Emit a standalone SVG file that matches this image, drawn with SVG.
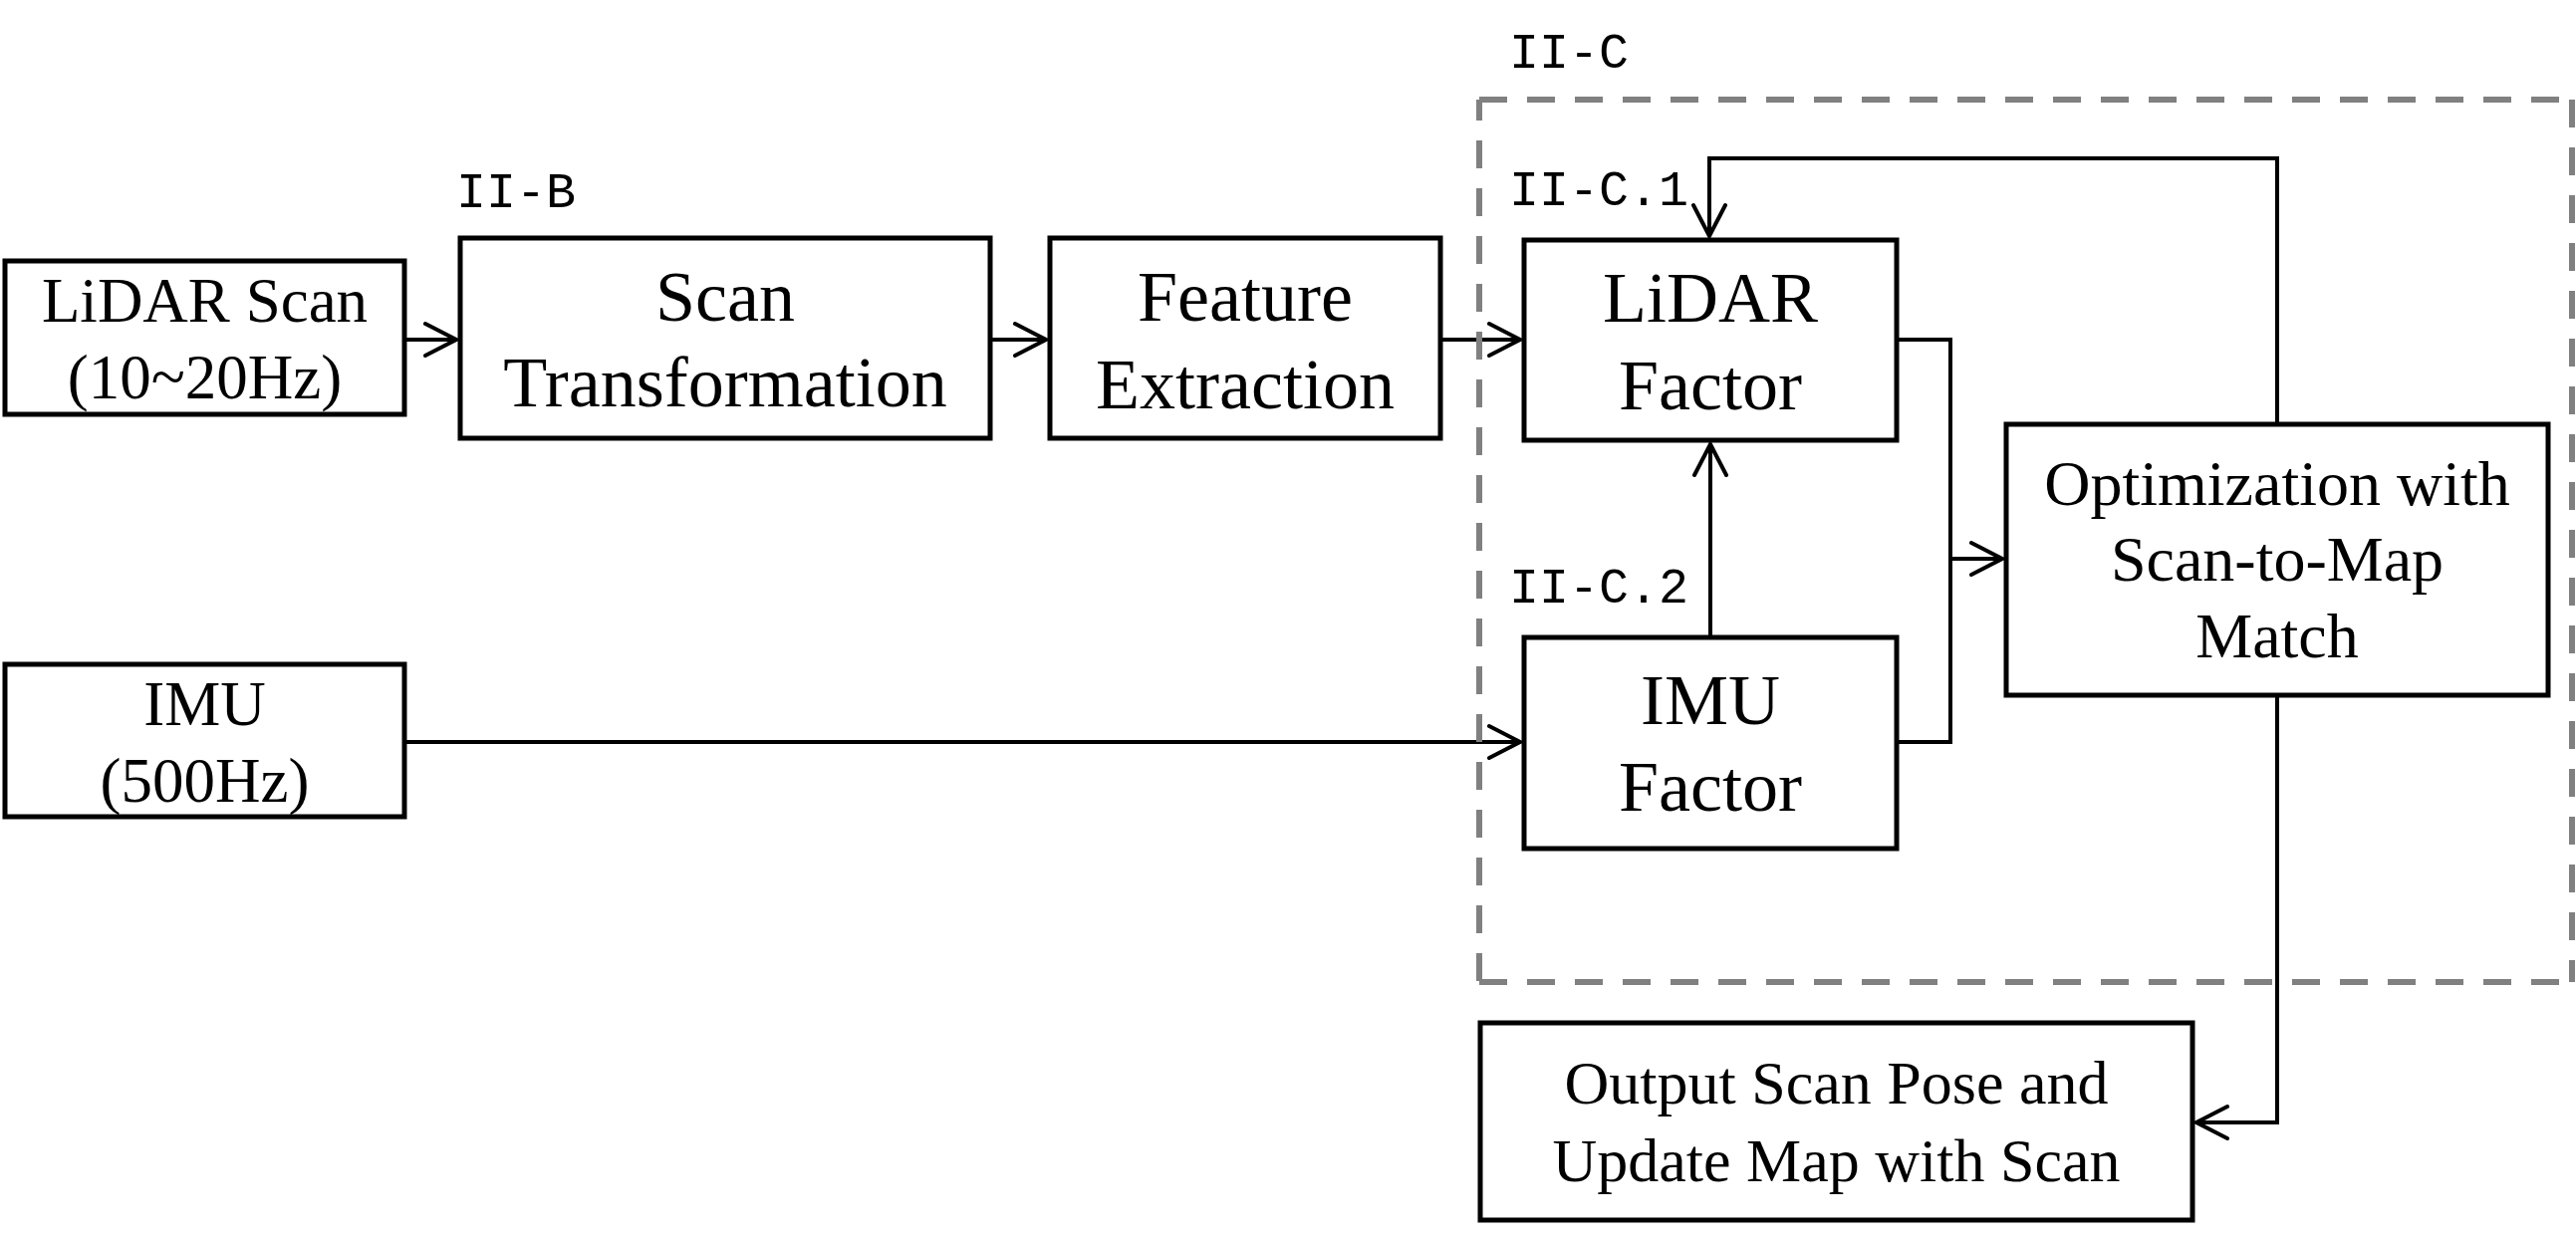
<svg xmlns="http://www.w3.org/2000/svg" width="2586" height="1242" viewBox="0 0 2586 1242">
<style>
.box{fill:#fff;stroke:#000;stroke-width:5}
.t{font-family:"Liberation Serif","Times New Roman",serif;fill:#000;text-anchor:middle}
.lbl{font-family:"Liberation Mono","DejaVu Sans Mono",monospace;font-size:50px;fill:#000}
.c{fill:none;stroke:#000;stroke-width:4}
.dash{fill:none;stroke:#808080;stroke-width:6;stroke-dasharray:28 20}
</style>
<defs>
<marker id="arr" markerUnits="userSpaceOnUse" markerWidth="40" markerHeight="40" viewBox="-36 -20 40 40" refX="0" refY="0" orient="auto">
<path d="M-31,-16 L0,0 L-31,16" fill="none" stroke="#000" stroke-width="4" stroke-linecap="round" stroke-linejoin="miter"/>
</marker>
</defs>
<rect width="2586" height="1242" fill="#fff"/>

<g id="connectors">
<path class="c" d="M407,341 H458" marker-end="url(#arr)"/>
<path class="c" d="M996,341 H1050" marker-end="url(#arr)"/>
<path class="c" d="M1448,341 H1526" marker-end="url(#arr)"/>
<path class="c" d="M407,745 H1526" marker-end="url(#arr)"/>
<path class="c" d="M1717,638 V446" marker-end="url(#arr)"/>
<path class="c" d="M1906,341 H1958 V745 H1906"/>
<path class="c" d="M1958,561 H2010" marker-end="url(#arr)"/>
<path class="c" d="M2286,424 V159 H1716 V237" marker-end="url(#arr)"/>
<path class="c" d="M2286,700 V1127 H2205" marker-end="url(#arr)"/>
</g>

<g id="group-IIC">
<path class="dash" d="M1485,100 H2582" stroke-dashoffset="0"/>
<path class="dash" d="M1485,100 V986" stroke-dashoffset="7"/>
<path class="dash" d="M1485,986 H2582"/>
<path class="dash" d="M2582,100 V986"/>
<text class="lbl" x="1515" y="68">II-C</text>
<text class="lbl" x="1515" y="206">II-C.1</text>
<text class="lbl" x="1515" y="605">II-C.2</text>
</g>

<g id="lidar-scan">
<rect class="box" x="5" y="262" width="401" height="154"/>
<text class="t" font-size="63" x="205.5" y="323">LiDAR Scan</text>
<text class="t" font-size="63" x="205.5" y="400">(10~20Hz)</text>
</g>

<g id="imu">
<rect class="box" x="5" y="667" width="401" height="153"/>
<text class="t" font-size="63" x="205.5" y="728">IMU</text>
<text class="t" font-size="63" x="205.5" y="805">(500Hz)</text>
</g>

<g id="scan-transformation">
<rect class="box" x="462" y="239" width="532" height="201"/>
<text class="lbl" x="458" y="208">II-B</text>
<text class="t" font-size="72" x="728" y="322">Scan</text>
<text class="t" font-size="72" x="728" y="408">Transformation</text>
</g>

<g id="feature-extraction">
<rect class="box" x="1054" y="239" width="392" height="201"/>
<text class="t" font-size="72" x="1250" y="322">Feature</text>
<text class="t" font-size="72" x="1250" y="410">Extraction</text>
</g>

<g id="lidar-factor">
<rect class="box" x="1530" y="241" width="374" height="201"/>
<text class="t" font-size="72" x="1717" y="323">LiDAR</text>
<text class="t" font-size="72" x="1717" y="411">Factor</text>
</g>

<g id="imu-factor">
<rect class="box" x="1530" y="640" width="374" height="212"/>
<text class="t" font-size="72" x="1717" y="727">IMU</text>
<text class="t" font-size="72" x="1717" y="814">Factor</text>
</g>

<g id="optimization">
<rect class="box" x="2014" y="426" width="544" height="272"/>
<text class="t" font-size="64" x="2286" y="507">Optimization with</text>
<text class="t" font-size="64" x="2286" y="583">Scan-to-Map</text>
<text class="t" font-size="64" x="2286" y="660">Match</text>
</g>

<g id="output">
<rect class="box" x="1486" y="1027" width="715" height="198"/>
<text class="t" font-size="62" x="1843.5" y="1108">Output Scan Pose and</text>
<text class="t" font-size="62" x="1843.5" y="1186">Update Map with Scan</text>
</g>
</svg>
